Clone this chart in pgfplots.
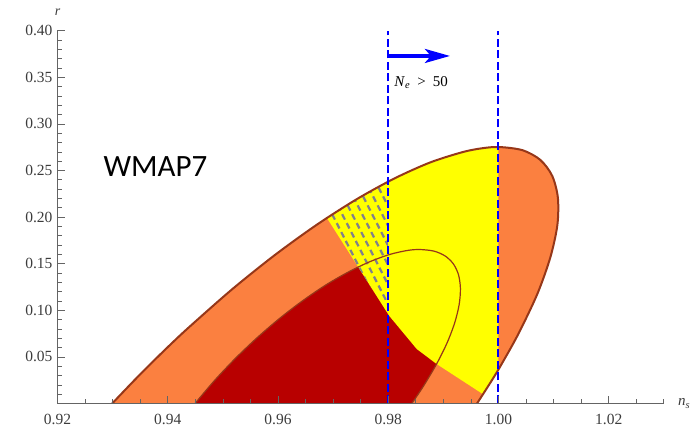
\documentclass[border=0pt]{standalone}
\usepackage{pgfplots}
\pgfplotsset{compat=1.18}
\usepackage{fontspec}
\setmainfont{Liberation Serif}
\newfontfamily\carlito{Carlito}
\usetikzlibrary{arrows.meta}
\definecolor{orangec}{RGB}{251,128,64}
\definecolor{darkredc}{RGB}{184,0,0}
\definecolor{yellowc}{RGB}{255,255,0}
\definecolor{edgec}{RGB}{150,55,25}
\definecolor{hatchc}{RGB}{128,128,140}
\definecolor{axisc}{RGB}{100,100,100}
\definecolor{labelc}{RGB}{60,60,60}
\begin{document}
\begin{tikzpicture}
\path[use as bounding box] (-57.5pt,-24.5pt) rectangle (638.5pt,403.5pt);
\begin{axis}[
  at={(0pt,0pt)}, anchor=south west,
  scale only axis, width=606.3pt, height=372.8pt,
  xmin=0.92, xmax=1.03, ymin=0, ymax=0.40,
  axis lines=left, axis line style={-, draw=axisc, line width=0.8pt},
  axis on top,
  tick align=inside,
  major tick length=7pt, minor tick length=4pt,
  every tick/.style={axisc, line width=0.7pt},
  xtick={0.92,0.94,0.96,0.98,1.00,1.02},
  xticklabels={0.92,0.94,0.96,0.98,1.00,1.02},
  minor xtick={0.925,0.93,0.935,0.945,0.95,0.955,0.965,0.97,0.975,0.985,0.99,0.995,1.005,1.01,1.015,1.025,1.03},
  ytick={0.05,0.10,0.15,0.20,0.25,0.30,0.35,0.40},
  yticklabels={0.05,0.10,0.15,0.20,0.25,0.30,0.35,0.40},
  minor ytick={0.01,0.02,0.03,0.04,0.06,0.07,0.08,0.09,0.11,0.12,0.13,0.14,0.16,0.17,0.18,0.19,0.21,0.22,0.23,0.24,0.26,0.27,0.28,0.29,0.31,0.32,0.33,0.34,0.36,0.37,0.38,0.39},
  /pgf/number format/assume math mode=true,
  ticklabel style={font=\fontsize{15.5}{18}\selectfont, text=labelc},
  xticklabel style={yshift=-7.5pt},
  yticklabel style={xshift=-1.5pt},
  xlabel={\textit{n}\textsubscript{\textit{s}}},
  ylabel={r},
  every axis x label/.style={at={(rel axis cs:1,0)}, anchor=base west, inner sep=0pt, xshift=14pt, yshift=-2.5pt, font=\fontsize{15}{18}\selectfont, text=labelc},
  every axis y label/.style={at={(rel axis cs:0,1)}, anchor=base, inner sep=0pt, yshift=15pt, font=\fontsize{14}{16}\selectfont\itshape, text=labelc},
]
% outer (95%) region
\addplot[fill=orangec, draw=none, smooth] coordinates {
(0.92992,0) (0.93350,0.0222) (0.93646,0.0400) (0.94046,0.0631) (0.94402,0.0827) (0.95171,0.1227) (0.95941,0.1592) (0.96697,0.1915) (0.97428,0.2192) (0.98121,0.2417) (0.98764,0.2587) (0.99348,0.2697) (0.99696,0.2738) (1.00010,0.2752) (1.00436,0.2718) (1.00759,0.2614) (1.00975,0.2443) (1.01078,0.2209) (1.01069,0.1915) (1.00942,0.1569) (1.00706,0.1176) (1.00360,0.0745) (1.00035,0.0400) (0.99852,0.0222) (0.99611,0)};
% inner (68%) region
\addplot[fill=darkredc, draw=none, smooth] coordinates {
(0.94495,0) (0.94845,0.0244) (0.95226,0.0483) (0.95628,0.0709) (0.96044,0.0920) (0.96463,0.1109) (0.96880,0.1276) (0.97287,0.1414) (0.97673,0.1523) (0.98032,0.1600) (0.98357,0.1643) (0.98577,0.1652) (0.98829,0.1635) (0.99030,0.1584) (0.99181,0.1499) (0.99275,0.1382) (0.99310,0.1236) (0.99288,0.1064) (0.99208,0.0869) (0.99070,0.0653) (0.98878,0.0424) (0.98636,0.0183) (0.98428,0)};
% yellow allowed region
\addplot[fill=yellowc, draw=none] coordinates {
(0.96882,0.1996) (0.97428,0.2192) (0.98121,0.2417) (0.98764,0.2587) (0.99348,0.2697) (0.99696,0.2738) (1.00000,0.2752) (1.00000,0.0371) (0.99852,0.0222) (0.99720,0.0100) (0.98878,0.0424) (0.98517,0.0585) (0.98020,0.0939) (0.97519,0.1405) (0.96882,0.1996)};
% hatched part
\begin{scope}
\clip (axis cs:0.96882,0.1996) -- (axis cs:0.97428,0.2192) -- (axis cs:0.98000,0.2375) -- (axis cs:0.98000,0.0939) -- (axis cs:0.97519,0.1405) -- cycle;
\pgfplotsinvokeforeach{0,...,18}{
  \draw[hatchc, line width=2.2pt, dash pattern=on 6pt off 4pt] (axis cs:{0.955+#1*0.001814},0.27) -- (axis cs:{0.97137+#1*0.001814},0.08);
}
\end{scope}
% outlines
\addplot[draw=edgec, line width=1.2pt, smooth] coordinates {
(0.94495,0) (0.94845,0.0244) (0.95226,0.0483) (0.95628,0.0709) (0.96044,0.0920) (0.96463,0.1109) (0.96880,0.1276) (0.97287,0.1414) (0.97673,0.1523) (0.98032,0.1600) (0.98357,0.1643) (0.98577,0.1652) (0.98829,0.1635) (0.99030,0.1584) (0.99181,0.1499) (0.99275,0.1382) (0.99310,0.1236) (0.99288,0.1064) (0.99208,0.0869) (0.99070,0.0653) (0.98878,0.0424) (0.98636,0.0183) (0.98428,0)};
\addplot[draw=edgec, line width=2pt, smooth] coordinates {
(0.92992,0) (0.93350,0.0222) (0.93646,0.0400) (0.94046,0.0631) (0.94402,0.0827) (0.95171,0.1227) (0.95941,0.1592) (0.96697,0.1915) (0.97428,0.2192) (0.98121,0.2417) (0.98764,0.2587) (0.99348,0.2697) (0.99696,0.2738) (1.00010,0.2752) (1.00436,0.2718) (1.00759,0.2614) (1.00975,0.2443) (1.01078,0.2209) (1.01069,0.1915) (1.00942,0.1569) (1.00706,0.1176) (1.00360,0.0745) (1.00035,0.0400) (0.99852,0.0222) (0.99611,0)};
% N_e bounds
\addplot[blue, line width=2pt, dash pattern=on 8pt off 3.5pt] coordinates {(0.98,0) (0.98,0.40)};
\addplot[blue, line width=2pt, dash pattern=on 8pt off 3.5pt] coordinates {(1.00,0) (1.00,0.40)};
\addplot[blue, line width=3.5pt, -{Stealth[length=25pt,width=14pt,inset=6pt]}] coordinates {(0.98,0.3729) (0.9912,0.3729)};
\node[font=\carlito\fontsize{31}{36}\selectfont] at (axis cs:0.93778,0.2538) {WMAP7};
\node[anchor=west, inner sep=0pt, font=\fontsize{15}{18}\selectfont] at (axis cs:0.9811,0.344) {\textit{N}\textsubscript{\textit{e}}\hspace{7pt}>\hspace{7pt}50};
\end{axis}
\end{tikzpicture}
\end{document}
